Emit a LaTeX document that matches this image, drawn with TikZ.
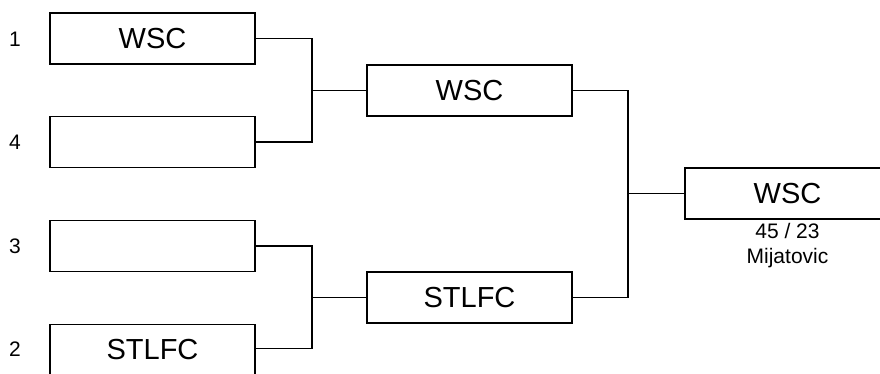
\documentclass[tikz,border=0pt]{standalone}
\usepackage{fontspec}
\setmainfont{Liberation Sans}
\tikzset{
  team/.style={draw,line width=1.7pt,minimum width=205pt,minimum height=51pt,inner sep=0pt,font=\fontsize{29}{29}\selectfont},
  seed/.style={font=\fontsize{21}{21}\selectfont},
  link/.style={line width=1.7pt}
}
\begin{document}
\begin{tikzpicture}[x=1pt,y=-1pt]
\useasboundingbox (0,0) rectangle (880,373);
\node[team] at (152.5,38.5) (r1) {WSC};
\node[team] at (152.5,142) (r4) {};
\node[team] at (152.5,246) (r3) {};
\node[team] at (152.5,350) (r2) {STLFC};
\node[seed] at (15,39) (s1) {1};
\node[seed] at (15,142) (s4) {4};
\node[seed] at (15,246) (s3) {3};
\node[seed] at (15,349) (s2) {2};
\node[team] at (469.5,90.5) (sf1) {WSC};
\node[team] at (469.5,297.5) (sf2) {STLFC};
\node[team] at (787.5,193.5) (fin) {WSC};
\node[align=center,font=\fontsize{21}{25}\selectfont] at (787.5,246) (score) {45 / 23\\Mijatovic};
\coordinate (j1) at (312,90.5);
\coordinate (j2) at (312,297.5);
\coordinate (j3) at (628,193.5);
\draw[link] (r1.east) -| (j1) |- (r4.east);
\draw[link] (j1) -- (sf1.west);
\draw[link] (r3.east) -| (j2) |- ([yshift=1.5pt]r2.east);
\draw[link] (j2) -- (sf2.west);
\draw[link] (sf1.east) -| (j3) |- (sf2.east);
\draw[link] (j3) -- (fin.west);
\end{tikzpicture}
\end{document}
